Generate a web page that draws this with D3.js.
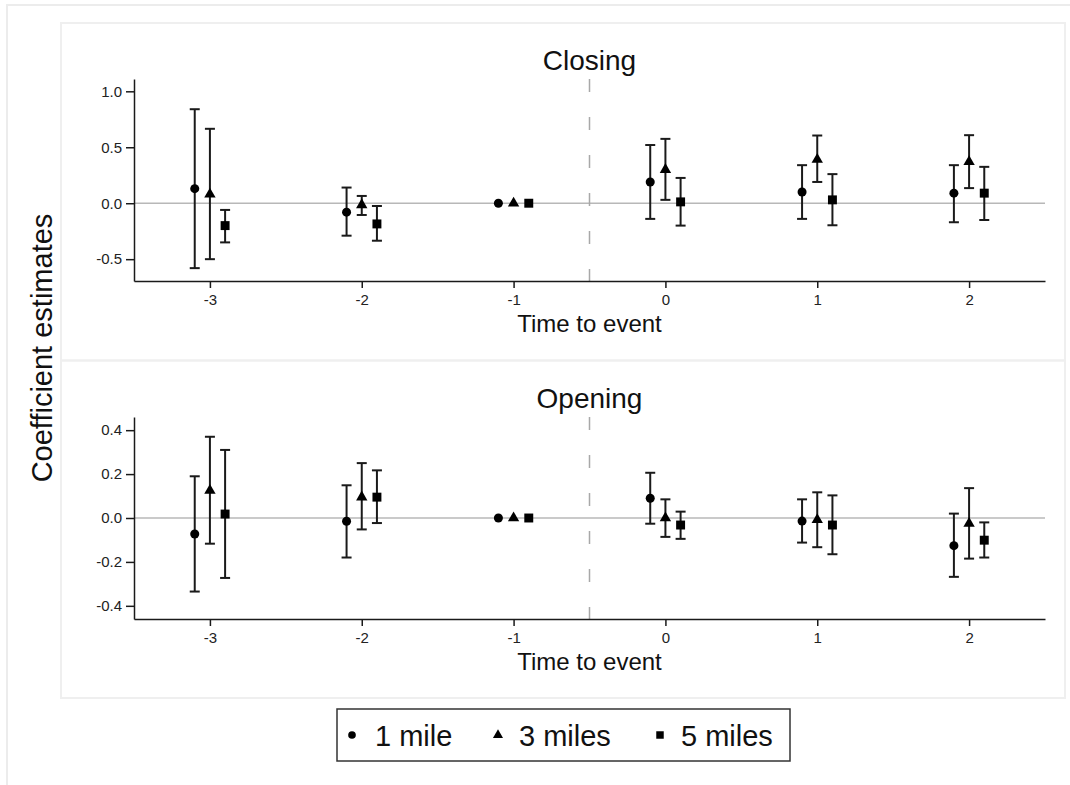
<!DOCTYPE html>
<html>
<head>
<meta charset="utf-8">
<script src="https://cdn.jsdelivr.net/npm/d3@7"></script>
<style>
  html, body { margin: 0; padding: 0; background: #fff; }
  svg { display: block; font-family: "Liberation Sans", Arial, sans-serif; }
</style>
</head>
<body>
<svg id="chart" width="1070" height="785"></svg>
<script>
// ---------- data ----------
const periods = [-3, -2, -1, 0, 1, 2];
const xTickLabels = ["-3", "-2", "-1", "0", "1", "2"];
const seriesNames = ["1 mile", "3 miles", "5 miles"];
const seriesOffsets = [-0.1, 0, 0.1];

// each entry: [estimate, lower CI, upper CI]  (null CI = reference period)
const closing1Mile = [[0.13, -0.58, 0.84], [-0.08, -0.29, 0.14], [0, null, null], [0.19, -0.14, 0.52], [0.10, -0.14, 0.34], [0.09, -0.17, 0.34]];
const closing3Miles = [[0.08, -0.50, 0.665], [-0.015, -0.105, 0.065], [0, null, null], [0.30, 0.03, 0.575], [0.39, 0.19, 0.605], [0.37, 0.135, 0.608]];
const closing5Miles = [[-0.20, -0.35, -0.06], [-0.185, -0.335, -0.025], [0, null, null], [0.012, -0.20, 0.226], [0.03, -0.197, 0.26], [0.09, -0.15, 0.325]];

const opening1Mile = [[-0.073, -0.335, 0.19], [-0.015, -0.18, 0.149], [0, null, null], [0.09, -0.026, 0.206], [-0.014, -0.112, 0.085], [-0.126, -0.268, 0.02]];
const opening3Miles = [[0.125, -0.117, 0.37], [0.095, -0.052, 0.25], [0, null, null], [0.0, -0.086, 0.085], [-0.008, -0.133, 0.117], [-0.025, -0.185, 0.136]];
const opening5Miles = [[0.018, -0.273, 0.31], [0.095, -0.023, 0.217], [0, null, null], [-0.032, -0.095, 0.029], [-0.032, -0.165, 0.103], [-0.101, -0.18, -0.02]];

const closingYTicks = [-0.5, 0, 0.5, 1.0];
const closingYTickLabels = ["-0.5", "0.0", "0.5", "1.0"];
const openingYTicks = [-0.4, -0.2, 0, 0.2, 0.4];
const openingYTickLabels = ["-0.4", "-0.2", "0.0", "0.2", "0.4"];

const panelTitles = ["Closing", "Opening"];
const xAxisTitle = "Time to event";
const yAxisTitle = "Coefficient estimates";

// ---------- drawing ----------
const svg = d3.select("#chart");
const ink = "#1a1a1a";

// outer frame and panel frames
svg.append("rect").attr("x", 7).attr("y", 5).attr("width", 1080).attr("height", 800)
  .attr("fill", "none").attr("stroke", "#ececec").attr("stroke-width", 2);
svg.append("rect").attr("x", 61).attr("y", 23).attr("width", 1004).attr("height", 337.5)
  .attr("fill", "none").attr("stroke", "#efefef").attr("stroke-width", 2);
svg.append("rect").attr("x", 61).attr("y", 360.5).attr("width", 1004).attr("height", 337.5)
  .attr("fill", "none").attr("stroke", "#efefef").attr("stroke-width", 2);

const x = d3.scaleLinear().domain([-3.5, 2.5]).range([134, 1045]);

const panels = [
  { title: panelTitles[0], data: [closing1Mile, closing3Miles, closing5Miles],
    y: d3.scaleLinear().domain([-0.695, 1.11]).range([281, 79]),
    ticks: closingYTicks, tickLabels: closingYTickLabels, titleY: 70, xTitleY: 332 },
  { title: panelTitles[1], data: [opening1Mile, opening3Miles, opening5Miles],
    y: d3.scaleLinear().domain([-0.46, 0.46]).range([619, 417]),
    ticks: openingYTicks, tickLabels: openingYTickLabels, titleY: 408, xTitleY: 670 }
];

const symbols = [d3.symbolCircle, d3.symbolTriangle, d3.symbolSquare];
const symbolSizes = [64, 56, 80];

panels.forEach(p => {
  const g = svg.append("g");
  const [yBot, yTop] = p.y.range();

  // zero line
  g.append("line").attr("x1", x.range()[0]).attr("x2", x.range()[1])
    .attr("y1", p.y(0)).attr("y2", p.y(0))
    .attr("stroke", "#b8b8b8").attr("stroke-width", 1.5);

  // event line
  g.append("line").attr("x1", x(-0.5)).attr("x2", x(-0.5))
    .attr("y1", yTop).attr("y2", yBot)
    .attr("stroke", "#a8a8a8").attr("stroke-width", 1.5)
    .attr("stroke-dasharray", "13,25");

  // y axis
  const yAxis = d3.axisLeft(p.y).tickValues(p.ticks)
    .tickFormat((d, i) => p.tickLabels[i]).tickSize(8).tickSizeOuter(0).tickPadding(4);
  const ya = g.append("g").attr("transform", `translate(${x.range()[0]},0)`).call(yAxis);
  ya.selectAll("path, line").attr("stroke", ink).attr("stroke-width", 1.5);
  ya.selectAll("text").attr("font-size", 15).attr("fill", "#222")
    .attr("font-family", "'Liberation Sans', Arial, sans-serif");

  // x axis
  const xAxis = d3.axisBottom(x).tickValues(periods)
    .tickFormat((d, i) => xTickLabels[i]).tickSize(7).tickSizeOuter(0).tickPadding(6);
  const xa = g.append("g").attr("transform", `translate(0,${yBot})`).call(xAxis);
  xa.selectAll("path, line").attr("stroke", ink).attr("stroke-width", 1.5);
  xa.selectAll("text").attr("font-size", 15).attr("fill", "#222")
    .attr("font-family", "'Liberation Sans', Arial, sans-serif");

  // titles
  g.append("text").attr("x", x(-0.5)).attr("y", p.titleY).attr("text-anchor", "middle")
    .attr("font-size", 28).attr("fill", "#111").text(p.title);
  g.append("text").attr("x", x(-0.5)).attr("y", p.xTitleY).attr("text-anchor", "middle")
    .attr("font-size", 24).attr("fill", "#111").text(xAxisTitle);

  // error bars + markers
  p.data.forEach((arr, si) => {
    const sg = g.append("g");
    arr.forEach((d, i) => {
      const cx = x(periods[i] + seriesOffsets[si]);
      const [est, lo, hi] = d;
      if (lo !== null && hi !== null) {
        sg.append("line").attr("x1", cx).attr("x2", cx)
          .attr("y1", p.y(lo)).attr("y2", p.y(hi))
          .attr("stroke", ink).attr("stroke-width", 2);
        [lo, hi].forEach(v => {
          sg.append("line").attr("x1", cx - 5).attr("x2", cx + 5)
            .attr("y1", p.y(v)).attr("y2", p.y(v))
            .attr("stroke", ink).attr("stroke-width", 2);
        });
      }
      sg.append("path")
        .attr("d", d3.symbol().type(symbols[si]).size(symbolSizes[si])())
        .attr("transform", `translate(${cx},${p.y(est)})`)
        .attr("fill", "#000");
    });
  });
});

// y axis title
svg.append("text").attr("transform", "translate(52,348) rotate(-90)")
  .attr("text-anchor", "middle").attr("font-size", 29).attr("fill", "#111").text(yAxisTitle);

// legend
const lg = svg.append("g");
lg.append("rect").attr("x", 337).attr("y", 709).attr("width", 453).attr("height", 52)
  .attr("fill", "#fff").attr("stroke", "#333").attr("stroke-width", 1.5);
const legendMarkerX = [352, 498, 660];
const legendTextX = [375, 519, 681];
const legendSizes = [46, 44, 56];
seriesNames.forEach((name, i) => {
  lg.append("path").attr("d", d3.symbol().type(symbols[i]).size(legendSizes[i])())
    .attr("transform", `translate(${legendMarkerX[i]},735)`).attr("fill", "#000");
  lg.append("text").attr("x", legendTextX[i]).attr("y", 746).attr("font-size", 29)
    .attr("fill", "#111").text(name);
});
</script>
</body>
</html>
